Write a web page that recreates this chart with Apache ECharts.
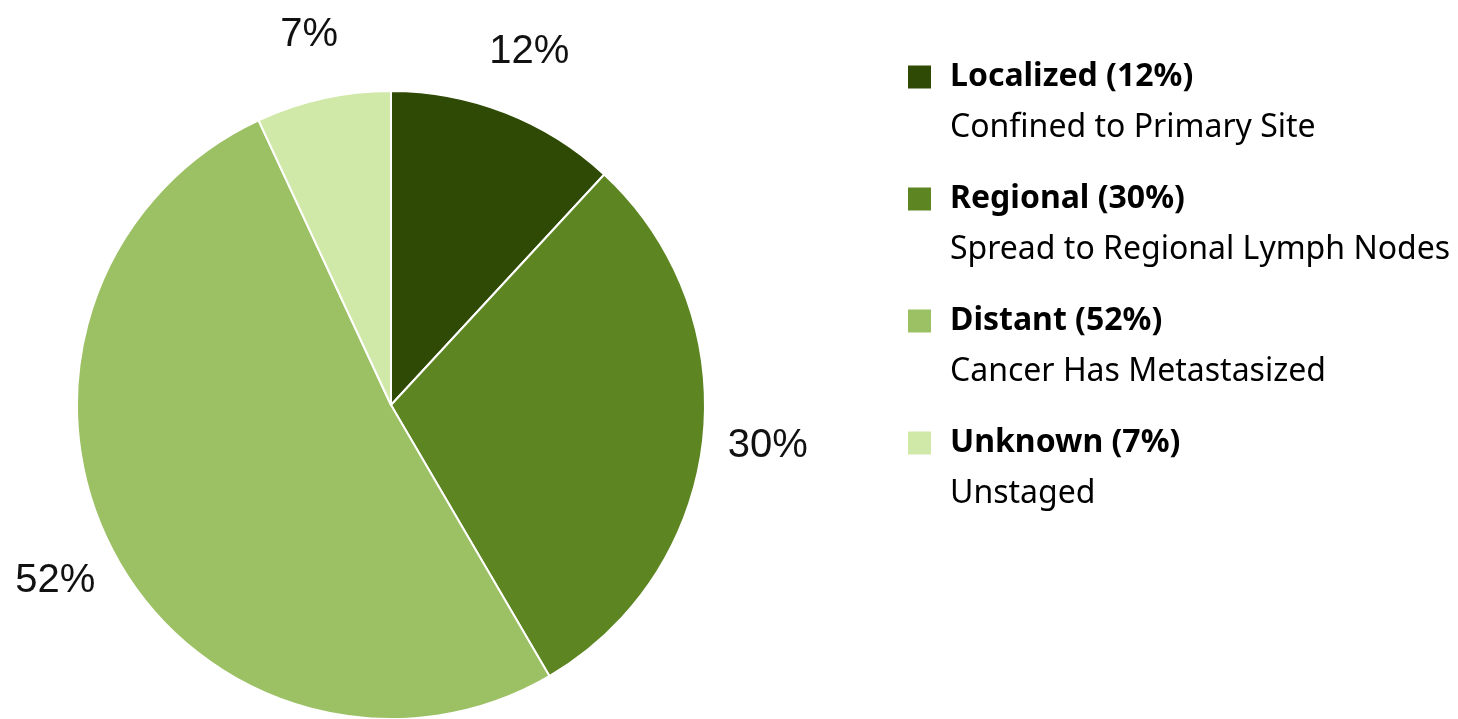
<!DOCTYPE html>
<html>
<head>
<meta charset="utf-8">
<script src="https://cdn.jsdelivr.net/npm/echarts@6/dist/echarts.min.js"></script>
<style>
html,body{margin:0;padding:0;background:#fff;}
#chart{width:1458px;height:719px;}
</style>
</head>
<body>
<div id="chart"></div>
<script>
const categories = ['Localized', 'Regional', 'Distant', 'Unknown'];
const values = [12, 30, 52, 7];
const descriptions = ['Confined to Primary Site', 'Spread to Regional Lymph Nodes', 'Cancer Has Metastasized', 'Unstaged'];
const colors = ['#2e4a04', '#5d8623', '#9cc064', '#d0e9a9'];

const data = categories.map((c, i) => ({ name: c, value: values[i], itemStyle: { color: colors[i] } }));
const ghostData = categories.map((c, i) => ({ name: c, value: values[i] }));

const chart = echarts.init(document.getElementById('chart'), null, { renderer: 'canvas' });
const legendFont = 'Noto Sans';
const legendSize = 32;
chart.setOption({
  animation: false,
  backgroundColor: '#ffffff',
  legend: {
    orient: 'vertical',
    left: 906,
    top: 10,
    padding: 0,
    itemWidth: 25,
    itemHeight: 25,
    itemGap: -12,
    icon: 'rect',
    selectedMode: false,
    data: categories,
    formatter: function (name) {
      const i = categories.indexOf(name);
      return '{e| }\n{b|' + name + ' (' + values[i] + '%)}\n{s|' + descriptions[i] + '}';
    },
    textStyle: {
      rich: {
        e: { lineHeight: 51, fontSize: legendSize, fontFamily: legendFont, padding: [0, 0, 0, 13] },
        b: { lineHeight: 51, fontSize: legendSize, fontWeight: 'bold', color: '#000', fontFamily: legendFont, padding: [0, 0, 0, 13] },
        s: { lineHeight: 51, fontSize: legendSize, color: '#000', fontFamily: legendFont, padding: [0, 0, 0, 13] }
      }
    }
  },
  series: [
    {
      type: 'pie',
      center: [391, 405],
      radius: [0, 314],
      startAngle: 90,
      clockwise: true,
      data: data,
      label: { show: false },
      labelLine: { show: false },
      itemStyle: { borderColor: '#ffffff', borderWidth: 2 },
      emphasis: { disabled: true }
    },
    {
      type: 'pie',
      center: [391, 405],
      radius: [0, 752],
      startAngle: 90,
      clockwise: true,
      silent: true,
      data: ghostData,
      itemStyle: { color: 'rgba(0,0,0,0)' },
      label: {
        show: true,
        position: 'inside',
        formatter: '{c}%',
        fontFamily: 'Liberation Sans, Arial, sans-serif',
        fontSize: 40,
        color: '#111'
      },
      labelLine: { show: false },
      emphasis: { disabled: true },
      tooltip: { show: false }
    }
  ]
});
</script>
</body>
</html>
